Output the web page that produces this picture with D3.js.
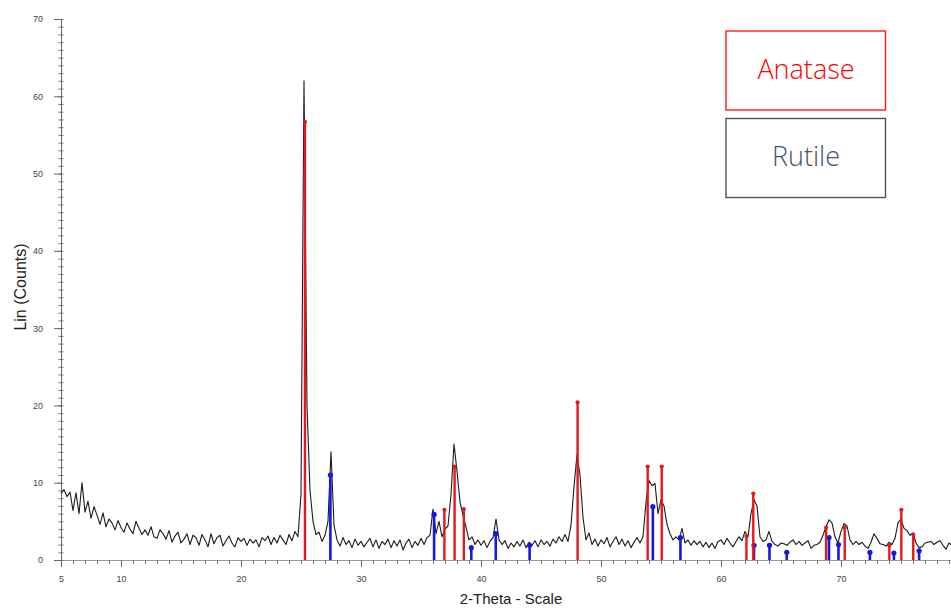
<!DOCTYPE html>
<html>
<head>
<meta charset="utf-8">
<script src="https://cdn.jsdelivr.net/npm/d3@7/dist/d3.min.js"></script>
<style>
  html, body { margin: 0; padding: 0; background: #fff; }
  svg { display: block; }
</style>
</head>
<body>
<svg id="chart" width="951" height="608"></svg>
<script>
// XRD scan: counts recorded from 5.00° 2θ in 0.25° steps
const scanStart = 5.0;
const scanStep = 0.25;
const scanCounts = [
  8.6, 9.1, 8.2, 8.8,   6.4, 8.7, 6.0, 10.0,  6.2, 7.6, 5.4, 6.9,   5.8, 4.6, 6.1, 4.3,
  5.3, 4.8, 3.9, 5.1,   4.2, 3.6, 4.8, 4.0,   3.4, 5.0, 4.1, 3.3,   3.9, 3.2, 4.3, 3.0,
  2.8, 3.9, 3.4, 2.7,   3.8, 2.3, 3.1, 3.6,   2.2, 2.7, 3.4, 2.0,   3.2, 2.9, 1.9, 3.3,
  2.6, 1.7, 3.4, 2.1,   2.9, 3.2, 1.8, 2.5,   3.1, 2.2, 1.7, 2.9,   2.4, 2.8, 1.9, 2.7,
  2.2, 2.6, 1.7, 2.9,   2.5, 3.1, 2.0, 2.9,   2.2, 3.2, 2.6, 2.0,   3.3, 2.5, 3.7, 3.0,
  8.5, 62.0, 20.0, 9.0, 5.0, 3.3, 3.6, 2.4,   3.2, 5.0, 14.0, 4.5,  2.6, 1.8, 2.9, 2.0,
  2.5, 1.6, 2.7, 1.9,   2.4, 1.7, 2.3, 2.8,   1.7, 2.6, 1.5, 2.4,   2.0, 2.7, 1.6, 2.5,
  1.8, 2.6, 1.3, 2.2,   2.7, 1.6, 2.4, 1.9,   2.8, 2.0, 2.9, 3.2,   6.6, 3.4, 5.0, 3.0,
  4.0, 4.4, 8.5, 15.0,  11.5, 7.5, 5.8, 4.3,  2.6, 3.0, 2.0, 2.6,   1.9, 2.5, 1.6, 2.4,
  2.9, 5.3, 2.6, 2.0,   2.5, 1.5, 2.2, 1.7,   2.4, 1.8, 2.6, 1.6,   2.3, 1.9, 2.5, 1.7,
  2.6, 2.0, 2.4, 1.8,   2.7, 2.2, 3.0, 2.4,   3.3, 2.4, 4.5, 9.5,   13.6, 11.0, 5.5, 2.6,
  3.5, 2.0, 2.7, 1.8,   2.6, 2.1, 2.9, 1.7,   2.4, 3.0, 2.0, 2.7,   1.8, 2.5, 1.6, 2.3,
  2.9, 2.2, 3.0, 7.5,   10.3, 9.6, 9.9, 6.0,  7.8, 7.0, 4.6, 3.4,   2.6, 3.0, 2.6, 4.1,
  2.2, 2.6, 1.9, 2.5,   2.0, 2.4, 1.7, 2.3,   1.6, 2.2, 1.5, 2.4,   2.6, 2.0, 2.8, 2.2,
  1.7, 2.4, 3.0, 2.5,   3.7, 3.0, 6.0, 7.8,   7.0, 3.0, 2.4, 2.6,   3.7, 2.4, 2.0, 1.8,
  2.2, 2.1, 1.9, 2.3,   2.6, 2.0, 2.4, 1.9,   2.2, 2.5, 1.5, 1.9,   2.0, 2.3, 3.2, 4.3,
  5.2, 4.8, 3.0, 2.2,   3.7, 4.7, 4.4, 2.6,   2.0, 2.4, 2.0, 2.3,   1.8, 1.5, 2.3, 3.4,
  2.8, 2.1, 2.0, 1.8,   2.3, 2.0, 2.8, 4.8,   5.3, 4.1, 3.8, 3.2,   3.5, 2.2, 1.6, 1.7,
  2.2, 2.3, 2.4, 2.0,   2.3, 2.5, 1.9, 1.4,   2.2, 1.9
];

// Reference patterns (peak position in 2θ, stick height in counts)
const anataseAngles  = [25.33, 36.95, 37.80, 38.57, 48.05, 53.89, 55.06, 62.12, 62.69, 68.76, 70.31, 74.03, 75.03, 76.02];
const anataseHeights = [56.7,   6.5,  12.1,   6.6,  20.4,  12.1,  12.1,   3.1,   8.6,   4.2,   4.2,   1.9,   6.5,   3.3];
const rutileAngles   = [27.45, 36.09, 39.19, 41.23, 44.05, 54.32, 56.62, 62.75, 64.04, 65.48, 69.00, 69.79, 72.41, 74.41, 76.51];
const rutileHeights  = [11.0,   5.9,   1.6,   3.4,   1.9,   6.9,   2.9,   1.9,   1.9,   1.0,   2.9,   2.0,   1.0,   0.9,   1.2];

// Axis ticks
const xTickLabels = [5, 10, 20, 30, 40, 50, 60, 70];
const yTickLabels = [0, 10, 20, 30, 40, 50, 60, 70];

// Legend entries
const legendNames = ["Anatase", "Rutile"];

const svg = d3.select("#chart");
const x = d3.scaleLinear().domain([5, 80]).range([61, 961]);
const y = d3.scaleLinear().domain([0, 70]).range([560, 19]);

const tickFont = "'Liberation Sans', Arial, sans-serif";

// ---- X axis ----
const xMinor = svg.append("g")
  .attr("transform", `translate(0,${y(0)})`)
  .call(d3.axisBottom(x).tickValues(d3.range(5, 81, 1)).tickSize(4).tickFormat(""));
xMinor.select(".domain").attr("stroke", "#9a9a9a");
xMinor.selectAll(".tick line").attr("stroke", "#777");

const xMajor = svg.append("g")
  .attr("transform", `translate(0,${y(0)})`)
  .call(d3.axisBottom(x).tickValues(xTickLabels).tickSize(7).tickPadding(9).tickFormat(d3.format("d")));
xMajor.select(".domain").remove();
xMajor.selectAll(".tick line").attr("stroke", "#666");
xMajor.selectAll(".tick text")
  .attr("fill", "#444").attr("font-size", "9px").attr("font-family", tickFont);

// ---- Y axis ----
const yMinor = svg.append("g")
  .attr("transform", `translate(${x(5) + 2.5},0)`)
  .call(d3.axisLeft(y).tickValues(d3.range(0, 71, 1)).tickSize(5).tickFormat(""));
yMinor.select(".domain").remove();
yMinor.selectAll(".tick line").attr("stroke", "#777");

const yMajor = svg.append("g")
  .attr("transform", `translate(${x(5)},0)`)
  .call(d3.axisLeft(y).tickValues(yTickLabels).tickSize(7).tickPadding(11).tickFormat(d3.format("d")));
yMajor.select(".domain").attr("stroke", "#666");
yMajor.selectAll(".tick line").attr("stroke", "#666");
yMajor.selectAll(".tick text")
  .attr("fill", "#444").attr("font-size", "9px").attr("font-family", tickFont);

// Axis titles
svg.append("text")
  .attr("transform", "translate(26,287) rotate(-90)")
  .attr("text-anchor", "middle")
  .attr("font-family", tickFont).attr("font-size", "16px").attr("fill", "#222")
  .text("Lin (Counts)");

svg.append("text")
  .attr("x", 511).attr("y", 604)
  .attr("text-anchor", "middle")
  .attr("font-family", tickFont).attr("font-size", "15px").attr("fill", "#222")
  .text("2-Theta - Scale");

// ---- Measured scan ----
const scan = scanCounts.map((c, i) => ({ t: scanStart + i * scanStep, c }));
svg.append("path")
  .datum(scan)
  .attr("fill", "none")
  .attr("stroke", "#1a1a1a")
  .attr("stroke-width", 1.1)
  .attr("stroke-linejoin", "round")
  .attr("d", d3.line().x(d => x(d.t)).y(d => y(d.c)));

// ---- Reference sticks ----
function drawSticks(angles, heights, color, width, r) {
  const pts = angles.map((a, i) => ({ a, h: heights[i] }));
  const g = svg.append("g");
  g.selectAll("line").data(pts).join("line")
    .attr("x1", d => x(d.a)).attr("x2", d => x(d.a))
    .attr("y1", y(0)).attr("y2", d => y(d.h))
    .attr("stroke", color).attr("stroke-width", width);
  g.selectAll("circle").data(pts).join("circle")
    .attr("cx", d => x(d.a)).attr("cy", d => y(d.h))
    .attr("r", r).attr("fill", color);
}
drawSticks(rutileAngles, rutileHeights, "#1717e0", 2.6, 2.6);
drawSticks(anataseAngles, anataseHeights, "#e5161c", 2.4, 2.1);

// ---- Legend boxes ----
const legendColors = ["#ff1a1a", "#44546a"];
const legendTextColors = ["#ff0000", "#44546a"];
const legend = svg.append("g");
legendNames.forEach((name, i) => {
  const top = 31 + i * 87.5;
  legend.append("rect")
    .attr("x", 726).attr("y", top)
    .attr("width", 159.5).attr("height", 79)
    .attr("fill", "#fff")
    .attr("stroke", legendColors[i]).attr("stroke-width", 1.4);
  legend.append("text")
    .attr("x", 806).attr("y", top + 47.5)
    .attr("text-anchor", "middle")
    .attr("font-family", "'Open Sans', 'Noto Sans', sans-serif")
    .attr("font-weight", 300)
    .attr("font-size", "27px")
    .attr("fill", legendTextColors[i])
    .text(name);
});
</script>
</body>
</html>
